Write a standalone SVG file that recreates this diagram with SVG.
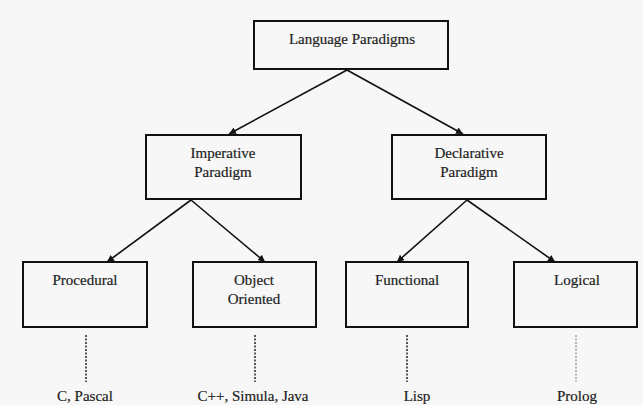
<svg xmlns="http://www.w3.org/2000/svg" width="643" height="405" viewBox="0 0 643 405">
  <style>
    .box { fill: #f7f7f7; stroke: #111; stroke-width: 2; }
    .lbl { font-family: "Liberation Serif", "Times New Roman", serif; font-size: 15px; fill: #222; stroke: #222; stroke-width: 0.2; text-anchor: middle; }
    .edge { stroke: #111; stroke-width: 1.6; fill: none; marker-end: url(#head); }
    .dot { stroke: #222; stroke-width: 1.5; stroke-dasharray: 2 1.5; fill: none; }
    .dot.light { stroke: #777; stroke-width: 1; }
  </style>
  <defs>
    <marker id="head" viewBox="0 0 10 10" refX="10" refY="5" markerWidth="7" markerHeight="7" markerUnits="userSpaceOnUse" orient="auto">
      <path d="M0,0 L10,5 L0,10 z" fill="#111"/>
    </marker>
  </defs>
  <rect width="643" height="405" fill="#f7f7f7"/>

  <g id="connectors">
    <line class="edge" x1="347" y1="70" x2="229" y2="134"/>
    <line class="edge" x1="347" y1="70" x2="463" y2="134"/>
    <line class="edge" x1="191" y1="200" x2="107" y2="262"/>
    <line class="edge" x1="191" y1="200" x2="265" y2="262"/>
    <line class="edge" x1="467" y1="200" x2="397" y2="262"/>
    <line class="edge" x1="467" y1="200" x2="555" y2="262"/>
    <line class="dot" x1="86" y1="335" x2="86" y2="382"/>
    <line class="dot" x1="255" y1="335" x2="255" y2="382"/>
    <line class="dot" x1="407" y1="335" x2="407" y2="382"/>
    <line class="dot light" x1="576" y1="335" x2="576" y2="382"/>
  </g>

  <g id="language-paradigms">
    <rect class="box" x="254" y="21" width="194" height="48"/>
    <text class="lbl" x="352" y="44">Language Paradigms</text>
  </g>

  <g id="imperative">
    <rect class="box" x="146" y="135" width="155" height="64"/>
    <text class="lbl" x="223" y="158">Imperative</text>
    <text class="lbl" x="223" y="177">Paradigm</text>
  </g>

  <g id="declarative">
    <rect class="box" x="392" y="135" width="154" height="64"/>
    <text class="lbl" x="469" y="158">Declarative</text>
    <text class="lbl" x="469" y="177">Paradigm</text>
  </g>

  <g id="procedural">
    <rect class="box" x="23" y="262" width="124" height="65"/>
    <text class="lbl" x="85" y="285">Procedural</text>
  </g>

  <g id="object-oriented">
    <rect class="box" x="193" y="262" width="123" height="65"/>
    <text class="lbl" x="254" y="285">Object</text>
    <text class="lbl" x="254" y="304">Oriented</text>
  </g>

  <g id="functional">
    <rect class="box" x="346" y="262" width="122" height="65"/>
    <text class="lbl" x="407" y="285">Functional</text>
  </g>

  <g id="logical">
    <rect class="box" x="514" y="262" width="123" height="65"/>
    <text class="lbl" x="577" y="285">Logical</text>
  </g>

  <g id="examples">
    <text class="lbl" x="85" y="401">C, Pascal</text>
    <text class="lbl" x="253" y="401">C++, Simula, Java</text>
    <text class="lbl" x="417" y="401">Lisp</text>
    <text class="lbl" x="577" y="401">Prolog</text>
  </g>
</svg>
